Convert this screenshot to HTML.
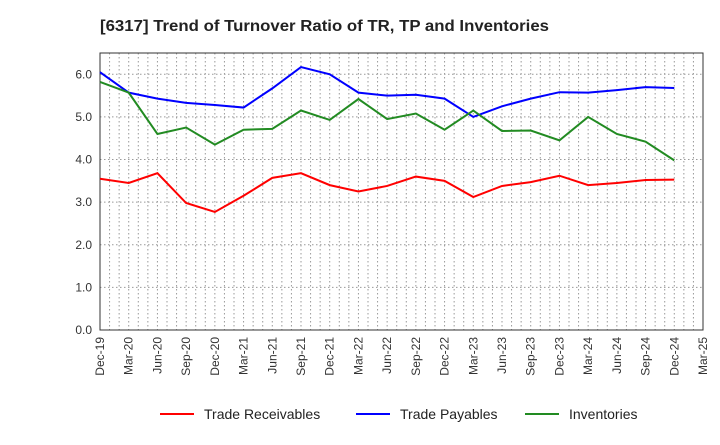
<!DOCTYPE html>
<html><head><meta charset="utf-8"><style>body{margin:0;background:#fff}svg{font-family:"Liberation Sans",sans-serif}</style></head>
<body>
<svg id="c" width="720" height="440"></svg>
<script>
const categories=["Dec-19","Mar-20","Jun-20","Sep-20","Dec-20","Mar-21","Jun-21","Sep-21","Dec-21","Mar-22","Jun-22","Sep-22","Dec-22","Mar-23","Jun-23","Sep-23","Dec-23","Mar-24","Jun-24","Sep-24","Dec-24","Mar-25"];
const tradeReceivables=[3.55,3.45,3.68,2.98,2.77,3.15,3.57,3.68,3.40,3.25,3.38,3.60,3.50,3.12,3.38,3.47,3.62,3.40,3.45,3.52,3.53];
const tradePayables=[6.05,5.57,5.43,5.33,5.28,5.22,5.67,6.17,6.00,5.57,5.50,5.52,5.43,5.00,5.25,5.43,5.58,5.57,5.63,5.70,5.68];
const inventories=[5.82,5.57,4.60,4.75,4.35,4.70,4.72,5.15,4.93,5.42,4.95,5.08,4.70,5.15,4.67,4.68,4.45,5.00,4.60,4.42,3.98];
const yTicks=["0.0","1.0","2.0","3.0","4.0","5.0","6.0"];
const L=100,R=703,T=53,B=330,YMAX=6.5;
const svg=document.getElementById('c');const NS="http://www.w3.org/2000/svg";
const x=i=>L+(R-L)*i/(categories.length-1);
const y=v=>B-(B-T)*v/YMAX;
function mk(t,a,p){const e=document.createElementNS(NS,t);for(const k in a)e.setAttribute(k,a[k]);(p||svg).appendChild(e);return e;}
const title=mk('text',{x:100,y:31,'font-size':16,'font-weight':'bold',fill:'#222',textLength:449,lengthAdjust:'spacingAndGlyphs'});


title.textContent="[6317]  Trend of Turnover Ratio of TR, TP and Inventories";
const grid=mk('g',{stroke:'#999','stroke-dasharray':'1.5,2.5','stroke-width':1});


for(let m=1;m<(categories.length-1)*3;m++){const xx=L+(R-L)*m/((categories.length-1)*3);mk('line',{x1:xx,x2:xx,y1:T,y2:B},grid);}
yTicks.forEach(t=>{const v=parseFloat(t);if(v>0)mk('line',{x1:L,x2:R,y1:y(v),y2:y(v)},grid);
const lb=mk('text',{x:L-8,y:y(v)+4,'font-size':12,'text-anchor':'end',fill:'#333'});


lb.textContent=t;});
const frame=mk('rect',{x:L,y:T,width:R-L,height:B-T,fill:'none',stroke:'#333'});


categories.forEach((c,i)=>{const lb=mk('text',{transform:`translate(${x(i)+4},${B+7}) rotate(-90)`,'font-size':12,'text-anchor':'end',fill:'#333'});


lb.textContent=c;});
const series=[["trade-receivables",tradeReceivables,"#ff0000","Trade Receivables",160],["trade-payables",tradePayables,"#0000ff","Trade Payables",356],["inventories",inventories,"#228b22","Inventories",525]];
series.forEach(([n,d,col,lab,lx])=>{const p=mk('polyline',{points:d.map((v,i)=>x(i)+','+y(v)).join(' '),fill:'none',stroke:col,'stroke-width':2});


const g=mk('g',{});


mk('line',{x1:lx,x2:lx+34,y1:414,y2:414,stroke:col,'stroke-width':2},g);
const t=mk('text',{x:lx+44,y:419,'font-size':14,fill:'#222'},g);t.textContent=lab;});
</script>
</body></html>
